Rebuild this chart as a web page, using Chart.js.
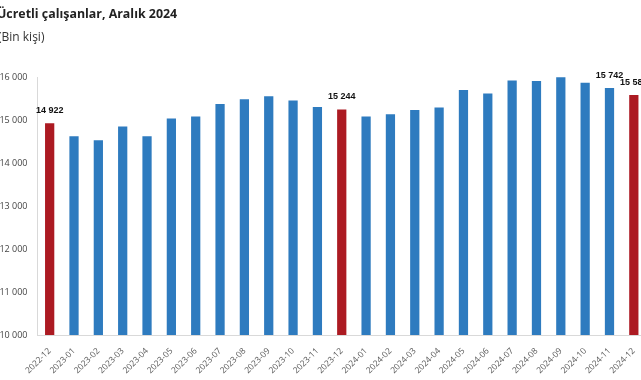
<!DOCTYPE html>
<html><head><meta charset="utf-8">
<script src="https://cdn.jsdelivr.net/npm/chart.js@4"></script>
<style>
html,body{margin:0;padding:0;width:641px;height:380px;overflow:hidden;background:#fff;}
#wrap{position:relative;width:641px;height:380px;overflow:hidden;}
canvas{position:absolute;left:0;top:0;}
.t{position:absolute;white-space:nowrap;font-family:"Open Sans",sans-serif;}
#title{left:-3px;top:5px;font-size:12.4px;font-weight:bold;color:#222;}
#sub{left:-2px;top:28px;font-size:12px;color:#333;}
</style></head><body>
<div id="wrap">
<canvas id="c" width="646" height="380" style="width:646px;height:380px"></canvas>
<div class="t" id="title">Ücretli çalışanlar, Aralık 2024</div>
<div class="t" id="sub">(Bin kişi)</div>
</div>
<script>
const categories = ["2022-12","2023-01","2023-02","2023-03","2023-04","2023-05","2023-06","2023-07","2023-08","2023-09","2023-10","2023-11","2023-12","2024-01","2024-02","2024-03","2024-04","2024-05","2024-06","2024-07","2024-08","2024-09","2024-10","2024-11","2024-12"];
const values = [14922,14620,14530,14850,14620,15035,15080,15375,15485,15555,15455,15305,15244,15080,15135,15230,15290,15700,15615,15920,15905,15995,15865,15742,15583];
const highlighted = ["2022-12","2023-12","2024-12"];
const labelled = ["2022-12","2023-12","2024-11","2024-12"];
const yTicks = [10000,11000,12000,13000,14000,15000,16000];

const BLUE = "#2e7bbf", RED = "#ac1a22";
const fmt = v => String(v).replace(/\B(?=(\d{3})+(?!\d))/g, " ");

const labelPlugin = {
  id: "vlabels",
  afterDatasetsDraw(chart) {
    const ctx = chart.ctx;
    const meta = chart.getDatasetMeta(0);
    ctx.save();
    ctx.font = "bold 9px 'Liberation Sans', Arial, sans-serif";
    ctx.fillStyle = "#111";
    ctx.textAlign = "center";
    ctx.textBaseline = "bottom";
    categories.forEach((c, i) => {
      if (!labelled.includes(c)) return;
      const el = meta.data[i];
      ctx.fillText(fmt(values[i]), el.x, el.y - 8);
    });
    ctx.restore();
  }
};

new Chart(document.getElementById("c"), {
  type: "bar",
  data: {
    labels: categories,
    datasets: [{
      data: values,
      backgroundColor: categories.map(c => highlighted.includes(c) ? RED : BLUE),
      barPercentage: 0.38,
      categoryPercentage: 1.0,
      borderWidth: 0
    }]
  },
  options: {
    responsive: false,
    animation: false,
    layout: { padding: { top: 77, left: 0, right: 0, bottom: 0 } },
    plugins: { legend: { display: false }, tooltip: { enabled: false }, title: { display: false } },
    scales: {
      x: {
        grid: { display: false },
        border: { display: true, color: "#d9d9d9", width: 1 },
        ticks: {
          minRotation: 45, maxRotation: 45, autoSkip: false, padding: 3,
          color: "#555", font: { family: "'Open Sans', sans-serif", size: 8.5 }
        },
        afterFit(s) { s.height = 45; }
      },
      y: {
        min: 10000, max: 16000,
        grid: { display: false, drawTicks: false },
        border: { display: true, color: "#d9d9d9", width: 1 },
        afterBuildTicks(s) { s.ticks = yTicks.map(v => ({ value: v })); },
        ticks: {
          padding: 10, color: "#444",
          font: { family: "'Open Sans', sans-serif", size: 9 },
          callback: v => fmt(v)
        },
        afterFit(s) { s.width = 37.5; }
      }
    }
  },
  plugins: [labelPlugin]
});
</script>
</body></html>
